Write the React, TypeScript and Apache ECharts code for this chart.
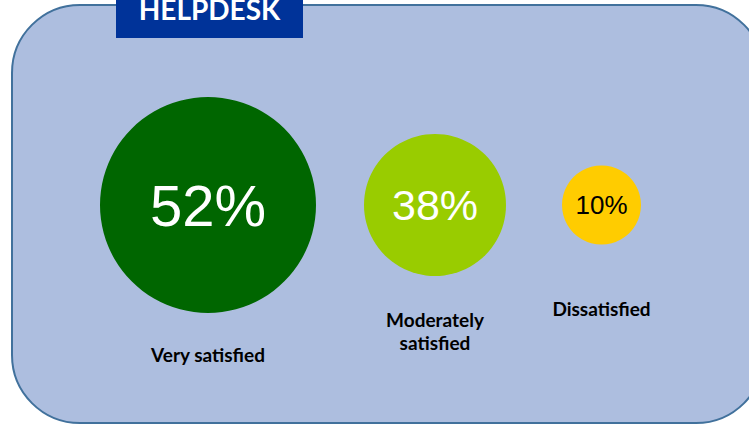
import React, { useEffect, useRef } from "react";
import * as echarts from "echarts";

// ---- data ----
const categories = ["Very satisfied", "Moderately\nsatisfied", "Dissatisfied"];
const values = [52, 38, 10];
const title = "HELPDESK";

// ---- styling / layout ----
const W = 749;
const H = 425;
const bubbleColors = ["#006600", "#99cc00", "#ffcc00"];
const valueColors = ["#ffffff", "#ffffff", "#000000"];
const bubbleDiameters = [216, 142, 79];
const valueFontSizes = [58, 43, 26];
const labelDistances = [138, 103, 92];
const firstLeft = 100;
const bubbleGaps = [48, 56];
const rowY = 205;

export default function App() {
  const ref = useRef<HTMLDivElement>(null);
  useEffect(() => {
    if (!ref.current) return;
    const chart = echarts.init(ref.current, null, { renderer: "svg" });

    // pack bubbles left to right
    const xs: number[] = [];
    let left = firstLeft;
    bubbleDiameters.forEach((d, i) => {
      xs.push(left + d / 2);
      left += d + (bubbleGaps[i] || 0);
    });

    const bubbleData = values.map((v, i) => ({
      value: [xs[i], rowY, v],
      symbolSize: bubbleDiameters[i],
      itemStyle: { color: bubbleColors[i], opacity: 1 },
      label: {
        color: valueColors[i],
        fontSize: valueFontSizes[i],
      },
    }));
    const nameData = categories.map((c, i) => ({
      value: [xs[i], rowY],
      name: c,
      label: { distance: labelDistances[i] },
    }));

    chart.setOption({
      animation: false,
      grid: { left: 0, right: 0, top: 0, bottom: 0 },
      xAxis: { type: "value", min: 0, max: W, show: false },
      yAxis: { type: "value", min: 0, max: H, inverse: true, show: false },
      graphic: [
        {
          type: "rect",
          z: -10,
          shape: { x: 12, y: 5, width: 752, height: 418, r: 68 },
          style: { fill: "#adbedf", stroke: "#41719c", lineWidth: 2 },
        },
        {
          type: "rect",
          z: 10,
          shape: { x: 116, y: -2, width: 187, height: 40 },
          style: { fill: "#003399" },
        },
        {
          type: "text",
          z: 11,
          x: 209.5,
          y: 23,
          style: {
            text: title,
            fill: "#ffffff",
            font: "bold 28px Lato",
            align: "center",
            verticalAlign: "bottom",
          },
        },
      ],
      series: [
        {
          type: "scatter",
          data: bubbleData,
          symbol: "circle",
          itemStyle: { opacity: 1 },
          label: {
            show: true,
            position: "inside",
            fontFamily: "Liberation Sans",
            formatter: (p: any) => `${p.value[2]}%`,
          },
          emphasis: { disabled: true },
        },
        {
          type: "scatter",
          data: nameData,
          symbolSize: 0,
          itemStyle: { opacity: 1 },
          label: {
            show: true,
            position: "bottom",
            formatter: (p: any) => p.name,
            fontFamily: "Lato",
            fontWeight: "bold",
            fontSize: 19,
            lineHeight: 23,
            color: "#000000",
            opacity: 1,
            align: "center",
          },
          emphasis: { disabled: true },
        },
      ],
    });
    return () => chart.dispose();
  }, []);
  return (
    <div
      ref={ref}
      style={{ position: "absolute", left: 0, top: 0, width: W, height: H, background: "#ffffff" }}
    />
  );
}
